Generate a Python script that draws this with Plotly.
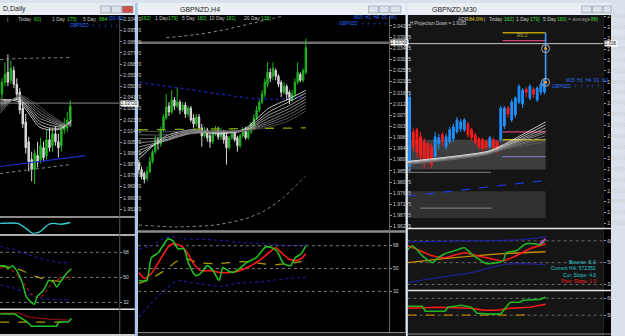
import plotly.graph_objects as go

W, H = 625, 336
FONT = "Liberation Sans, Arial, sans-serif"


def px(x):
    return x / W


def py(y):
    return 1 - y / H


# ================= LEFT WINDOW : GBPNZD, Daily =================
d_open = [2.0444, 2.0540, 2.0620, 2.0556, 2.0636, 2.0524, 2.0460, 2.0332, 2.0220, 2.0060,
          1.9916, 1.9836, 1.9948, 1.9916, 2.0012, 1.9948, 2.0076, 2.0028, 2.0124, 2.0060,
          2.0028, 2.0156, 2.0172, 2.0236]
d_high = [2.0572, 2.0700, 2.0764, 2.0716, 2.0668, 2.0572, 2.0492, 2.0380, 2.0284, 2.0100,
          1.9980, 1.9996, 2.0060, 2.0092, 2.0060, 2.0156, 2.0172, 2.0172, 2.0188, 2.0124,
          2.0204, 2.0252, 2.0300, 2.0396]
d_low = [2.0412, 2.0508, 2.0508, 2.0524, 2.0492, 2.0396, 2.0284, 2.0172, 1.9964, 1.9820,
         1.9740, 1.9716, 1.9852, 1.9884, 1.9900, 1.9916, 1.9980, 1.9980, 2.0028, 1.9932,
         1.9980, 2.0124, 2.0140, 2.0188]
d_close = [2.0540, 2.0604, 2.0540, 2.0652, 2.0524, 2.0444, 2.0316, 2.0204, 2.0012, 1.9900,
           1.9836, 1.9964, 1.9900, 2.0028, 1.9932, 2.0076, 2.0012, 2.0124, 2.0060, 2.0012,
           2.0156, 2.0188, 2.0236, 2.0348]
d_bid = 2.0372
d_rib_x = [-0.6, 5.9, 12.5, 15.8, 20.1, 23.4]
d_rib = [
    [2.0404, 2.0380, 2.0180, 2.0156, 2.0164, 2.0236],
    [2.0388, 2.0396, 2.0204, 2.0172, 2.0172, 2.0228],
    [2.0372, 2.0404, 2.0228, 2.0196, 2.0180, 2.0220],
    [2.0356, 2.0412, 2.0252, 2.0220, 2.0188, 2.0212],
    [2.0340, 2.0420, 2.0276, 2.0236, 2.0196, 2.0204],
    [2.0324, 2.0428, 2.0300, 2.0252, 2.0204, 2.0196],
    [2.0308, 2.0428, 2.0324, 2.0268, 2.0212, 2.0188],
    [2.0292, 2.0436, 2.0348, 2.0284, 2.0220, 2.0180],
]
d_env_up_x = [-0.6, 5.9, 23.4]
d_env_up = [2.0724, 2.0732, 2.0740]
d_env_lo_x = [-0.6, 23.0]
d_env_lo = [1.9804, 1.9876]
d_ma_blue_x = [-0.6, 28.0]
d_ma_blue = [1.9860, 1.9948]
d_osc_x = [-0.6, 5.3, 8.2, 10.2, 12.5, 15.8, 17.4, 20.1, 23.0]
d_osc = [0.33, 0.33, -0.33, -0.89, -0.78, 0.22, 0.33, 0.22, 0.44]
d_rsi_x = [-0.6, 1, 2, 3.6, 5.3, 6.9, 8.2, 9.9, 10.9, 11.8, 14.1, 15.8, 17.4, 18.4, 20.1, 21.7, 23.4]
d_rsi = [58.3, 58.3, 56.2, 58.3, 53.5, 45.8, 36.1, 32, 30.6, 36.1, 41, 47.9, 46.5, 43.1, 47.9, 52.8, 56.2]
d_rsi_ma_x = [-0.6, 2.6, 5.9, 8.2, 10.2, 12.5, 14.1, 15.8, 18.1, 20.1, 23]
d_rsi_ma = [56.9, 56.2, 50, 43.1, 37.5, 35.5, 37.5, 43.1, 47.9, 49.3, 50]
d_rsi_sig_x = [-0.6, 3.6, 6.9, 10.2, 13.5, 16.8, 20.1, 23]
d_rsi_sig = [58.3, 56.9, 54.8, 51.4, 49.3, 47.9, 47.2, 48.6]
d_band_up_x = [-0.6, 3.6, 8.2, 12.5, 16.8, 20.1, 23]
d_band_up = [72.2, 70.1, 66.6, 63.9, 61.8, 60.4, 61.1]
d_band_lo_x = [-0.6, 3.6, 8.2, 12.5, 16.8, 23]
d_band_lo = [44.5, 42.4, 38.9, 35.5, 34.1, 34.1]
d_bot_green_x = [-0.6, 4.3, 8.6, 9.9, 18.4, 19.1, 22.4, 23.4]
d_bot_green = [0.83, 0.83, 0.48, 0.30, 0.30, 0.48, 0.48, 0.65]
d_bot_red_x = [-0.6, 5.9, 9.2, 15.8, 23]
d_bot_red = [0.87, 0.87, 0.70, 0.61, 0.57]
d_bot_sig_x = [-0.6, 23]
d_bot_sig = [0.48, 0.48]

# ================= MIDDLE WINDOW : GBPNZD, H4 =================
m_open = [1.9882, 1.9858, 1.9842, 1.9822, 1.9850, 1.9890, 1.9930, 1.9978, 1.9962, 2.0018,
          2.0066, 2.0114, 2.0090, 2.0138, 2.0114, 2.0130, 2.0098, 2.0118, 2.0082, 2.0106,
          2.0066, 2.0042, 2.0070, 2.0026, 1.9994, 2.0018, 1.9994, 1.9970, 2.0002, 2.0018,
          1.9990, 2.0010, 1.9994, 1.9946, 1.9986, 2.0010, 1.9986, 1.9954, 1.9994, 2.0018,
          1.9986, 2.0010, 2.0034, 2.0066, 2.0098, 2.0130, 2.0162, 2.0202, 2.0250, 2.0234,
          2.0258, 2.0234, 2.0210, 2.0170, 2.0194, 2.0170, 2.0138, 2.0162, 2.0210, 2.0242,
          2.0218, 2.0250]
m_high = [1.9898, 1.9870, 1.9850, 1.9870, 1.9910, 1.9938, 1.9994, 1.9990, 2.0030, 2.0082,
          2.0162, 2.0130, 2.0178, 2.0150, 2.0190, 2.0138, 2.0130, 2.0130, 2.0114, 2.0114,
          2.0082, 2.0082, 2.0082, 2.0042, 2.0030, 2.0026, 2.0010, 2.0018, 2.0034, 2.0030,
          2.0026, 2.0018, 2.0010, 1.9994, 2.0026, 2.0018, 1.9994, 2.0002, 2.0030, 2.0030,
          2.0018, 2.0050, 2.0082, 2.0114, 2.0138, 2.0178, 2.0226, 2.0290, 2.0266, 2.0290,
          2.0266, 2.0242, 2.0218, 2.0210, 2.0202, 2.0178, 2.0178, 2.0226, 2.0290, 2.0250,
          2.0266, 2.0386]
m_low = [1.9842, 1.9818, 1.9802, 1.9810, 1.9842, 1.9882, 1.9922, 1.9938, 1.9950, 2.0010,
         2.0058, 2.0074, 2.0082, 2.0098, 2.0106, 2.0082, 2.0090, 2.0066, 2.0070, 2.0050,
         2.0026, 2.0030, 2.0010, 1.9950, 1.9986, 1.9970, 1.9946, 1.9962, 1.9994, 1.9978,
         1.9978, 1.9962, 1.9878, 1.9938, 1.9978, 1.9970, 1.9930, 1.9946, 1.9986, 1.9978,
         1.9978, 2.0002, 2.0026, 2.0058, 2.0090, 2.0122, 2.0150, 2.0190, 2.0210, 2.0218,
         2.0218, 2.0190, 2.0150, 2.0162, 2.0138, 2.0122, 2.0130, 2.0150, 2.0202, 2.0210,
         2.0210, 2.0242]
m_close = [1.9858, 1.9830, 1.9818, 1.9850, 1.9890, 1.9930, 1.9978, 1.9962, 2.0018, 2.0070,
           2.0110, 2.0090, 2.0138, 2.0114, 2.0130, 2.0098, 2.0118, 2.0082, 2.0106, 2.0058,
           2.0042, 2.0070, 2.0026, 1.9994, 2.0018, 1.9986, 1.9970, 2.0002, 2.0018, 1.9990,
           2.0010, 1.9978, 1.9946, 1.9986, 2.0010, 1.9978, 1.9954, 1.9994, 2.0018, 1.9986,
           2.0010, 2.0042, 2.0066, 2.0098, 2.0130, 2.0162, 2.0210, 2.0250, 2.0226, 2.0266,
           2.0234, 2.0202, 2.0170, 2.0194, 2.0162, 2.0138, 2.0162, 2.0210, 2.0250, 2.0218,
           2.0258, 2.0350]
m_bid = 2.0370
m_rib_x = [0, 10, 19, 29.6, 38.6, 47.5, 54.6, 61]
m_rib = [
    [1.9902, 1.9994, 2.0018, 2.0002, 2.0022, 2.0106, 2.0142, 2.0178],
    [1.9918, 1.9986, 2.0014, 2.0002, 2.0018, 2.0090, 2.0130, 2.0166],
    [1.9934, 1.9978, 2.0010, 2.0006, 2.0014, 2.0078, 2.0114, 2.0154],
    [1.9950, 1.9974, 2.0006, 2.0006, 2.0014, 2.0066, 2.0102, 2.0142],
    [1.9966, 1.9978, 2.0002, 2.0010, 2.0014, 2.0054, 2.0090, 2.0130],
    [1.9982, 1.9986, 2.0006, 2.0010, 2.0014, 2.0046, 2.0078, 2.0118],
    [1.9998, 1.9998, 2.0010, 2.0014, 2.0014, 2.0038, 2.0066, 2.0106],
    [2.0014, 2.0010, 2.0014, 2.0014, 2.0014, 2.0030, 2.0054, 2.0094],
]
m_ma_blue_x = [0, 10, 20, 30, 40, 50, 61]
m_ma_blue = [2.0210, 2.0194, 2.0178, 2.0162, 2.0146, 2.0142, 2.0150]
m_ma_green_x = [0, 61]
m_ma_green = [2.0018, 2.0026]
m_env_up_x = [10, 20.7, 31.4, 42.1, 52.9]
m_env_up = [2.0390, 2.0402, 2.0422, 2.0450, 2.0478]
m_env_lo_x = [0, 13.6, 27.9, 38.6, 45.7, 52.9, 60.7]
m_env_lo = [1.9634, 1.9626, 1.9634, 1.9658, 1.9690, 1.9746, 1.9830]
m_rsi_x = [0, 2.9, 4.6, 7.1, 10.7, 12.5, 14.3, 16.4, 18.2, 20.7, 22.5, 25, 27.1, 29.3,
           30.7, 32.5, 34.3, 36.8, 39.3, 42.9, 46.4, 48.6, 50.4, 52.9, 55.4, 57.1, 59.3, 61]
m_rsi = [40.6, 40.6, 58.6, 62.5, 73.4, 71.9, 65.6, 65.6, 53.9, 44.5, 46.1, 52.3, 48.4, 40.6,
         50.8, 48.4, 46.9, 50, 54.7, 58.6, 67.2, 66.4, 64.1, 53.9, 52.3, 58.6, 61.7, 68]
m_rsi_ma_x = [0, 2.1, 4.6, 8.2, 11.1, 12.9, 15.4, 17.9, 20, 22.5, 26.1, 29.6, 33.2, 36.8,
              40.4, 43.9, 47.5, 50, 52.1, 54.6, 57.1, 59.3, 61]
m_rsi_ma = [46.9, 42.2, 46.1, 58.6, 68, 69.5, 68, 61.7, 53.9, 48.4, 48.4, 46.9, 46.9, 48.4,
            51.6, 56.3, 62.5, 66.4, 62.5, 57.8, 56.3, 57.8, 61.7]
m_rsi_sig_x = [0, 4.6, 9.3, 14.3, 17.1, 21.4, 28.6, 37.9, 45, 50, 57.1, 60.7]
m_rsi_sig = [38.3, 42.2, 48.4, 56.3, 57.8, 54.7, 53.9, 55.5, 53.9, 53.1, 54.7, 56.3]
m_band_up_x = [0, 4.6, 9.3, 11.8, 16.4, 27.1, 39.3, 47.5, 54.6, 61]
m_band_up = [65.6, 68, 74.2, 75, 73.4, 72.7, 70.3, 69.5, 68, 68.8]
m_band_lo_x = [0, 4.6, 9.3, 14.3, 18.9, 29.6, 35.7, 45, 54.6, 61]
m_band_lo = [11.7, 22.7, 32.8, 40.6, 39.1, 35.9, 38.3, 39.8, 42.2, 43]
rsi_levels = [68, 50, 32]

# ================= RIGHT WINDOW : GBPNZD, M30 =================
r_open = [2.0120, 2.0190, 2.0194, 2.0180, 2.0170, 2.0166, 2.0160, 2.0140, 2.0166, 2.0184,
          2.0160, 2.0170, 2.0176, 2.0190, 2.0196, 2.0194, 2.0206, 2.0194, 2.0184, 2.0176,
          2.0174, 2.0170, 2.0160, 2.0174, 2.0170, 2.0174, 2.0202, 2.0238, 2.0214, 2.0224,
          2.0250, 2.0246, 2.0276, 2.0258, 2.0276, 2.0254, 2.0270, 2.0270]
r_high = [2.0270, 2.0198, 2.0198, 2.0190, 2.0178, 2.0170, 2.0166, 2.0190, 2.0186, 2.0190,
          2.0186, 2.0200, 2.0206, 2.0220, 2.0216, 2.0218, 2.0210, 2.0198, 2.0188, 2.0180,
          2.0178, 2.0174, 2.0182, 2.0178, 2.0174, 2.0242, 2.0242, 2.0242, 2.0256, 2.0262,
          2.0286, 2.0278, 2.0280, 2.0286, 2.0280, 2.0282, 2.0290, 2.0298]
r_low = [2.0110, 2.0150, 2.0138, 2.0130, 2.0116, 2.0126, 2.0116, 2.0134, 2.0154, 2.0162,
         2.0154, 2.0166, 2.0170, 2.0186, 2.0190, 2.0190, 2.0178, 2.0172, 2.0164, 2.0154,
         2.0150, 2.0154, 2.0156, 2.0152, 2.0146, 2.0170, 2.0196, 2.0218, 2.0210, 2.0218,
         2.0246, 2.0238, 2.0260, 2.0254, 2.0258, 2.0250, 2.0264, 2.0266]
r_close = [2.0260, 2.0160, 2.0150, 2.0140, 2.0130, 2.0134, 2.0124, 2.0180, 2.0178, 2.0170,
           2.0180, 2.0194, 2.0200, 2.0214, 2.0210, 2.0214, 2.0184, 2.0178, 2.0168, 2.0160,
           2.0156, 2.0158, 2.0178, 2.0158, 2.0152, 2.0238, 2.0238, 2.0226, 2.0250, 2.0258,
           2.0282, 2.0274, 2.0270, 2.0282, 2.0266, 2.0278, 2.0286, 2.0294]
r_bid = 2.0368
r_lvl_x = [25.5, 37.3]
r_proj_yellow = 2.0390
r_proj_pink = 2.0374
r_pivot_pink = 2.0190
r_pivot_yellow = 2.0174
r_pivot_lav = 2.0140
r_box_x = [-0.54, 37.3]
r_box1 = [2.0114, 2.0174]
r_box2 = [2.0016, 2.0070]
r_gray_x = [-0.54, 22.3]
r_gray = 2.0108
r_box2_line_x = [2.9, 22.5]
r_box2_line = 2.0036
r_ma_blue_x = [-0.54, 37.3]
r_ma_blue = [2.0060, 2.0092]
r_spike_x = [37.3, 37.3]
r_spike = [2.0294, 2.0390]
r_circle_x = [37.3, 37.3]
r_circle = [2.0358, 2.0290]
r_rib_x = [-0.5, 21.2, 25.7, 37.3]
r_rib = [
    [2.0130, 2.0150, 2.0164, 2.0210],
    [2.0130, 2.0150, 2.0162, 2.0204],
    [2.0128, 2.0148, 2.0160, 2.0198],
    [2.0128, 2.0148, 2.0160, 2.0192],
    [2.0126, 2.0146, 2.0158, 2.0188],
    [2.0126, 2.0146, 2.0156, 2.0182],
    [2.0124, 2.0144, 2.0156, 2.0176],
    [2.0124, 2.0144, 2.0154, 2.0170],
]
r_i1_up_x = [-0.5, 16.4, 29.8, 37.3]
r_i1_up = [67.2, 68, 68.8, 71.3]
r_i1_lo_x = [-0.5, 7.8, 16.9, 25.7, 30.3, 37.3]
r_i1_lo = [33.6, 37.7, 41.8, 48.4, 49.2, 48.4]
r_i1_green_x = [-0.5, 0.8, 3.5, 6.2, 7.8, 9.7, 12.3, 15, 16.9, 19.6, 21.2, 23.9, 25.7, 26.5,
                29.2, 31.9, 34.6, 35.7, 37]
r_i1_green = [60.6, 63.9, 55.7, 50, 54.1, 57.4, 59.8, 62.3, 57.4, 51.6, 49.2, 50, 51.6, 58.2,
              59.8, 65.5, 65.5, 64.7, 68]
r_i1_mag_x = [35.7, 37.3]
r_i1_mag = [65.5, 69.6]
r_i1_red_x = [-0.5, 1.6, 6.2, 9.7, 15, 18.5, 22.3, 25.7, 29.2, 33, 37.3]
r_i1_red = [63.9, 61.5, 55.7, 54.1, 58.2, 55.7, 53.3, 51.6, 55.7, 61.5, 65.5]
r_i1_orange_x = [-0.5, 12.3, 25.7, 37.3]
r_i1_orange = [50, 54.1, 57.4, 59]
r_i2_green_x = [-0.5, 3.5, 4.3, 9.7, 10.5, 14.2, 16.9, 18.5, 22.3, 24.9, 27.6, 30.3, 31.1, 35.7, 37.3]
r_i2_green = [59.5, 59.5, 54.2, 54.2, 58.5, 60.6, 58.5, 52.1, 51.1, 51.1, 63.8, 63.8, 65.9, 66.9, 69.1]
r_i2_red_x = [-0.5, 7.8, 16.9, 20.4, 23.9, 27.6, 33, 37.3]
r_i2_red = [57.4, 58.5, 57.4, 55.3, 55.3, 57.4, 58.5, 61.7]
r_i2_sig_x = [-0.5, 16.9, 30.3, 33.8]
r_i2_sig = [50, 50, 50, 51.1]
r_i2_levels = [68, 50]

# ================= FIGURE =================
fig = go.Figure()

# panel: axis number -> (x0, x1, ytop, ybottom, xrange, yrange)
panels = {
    1: (0, 122, 13, 215, [-0.66, 39.5], [1.9460, 2.1076]),
    2: (0, 122, 217, 233, [-0.66, 39.5], [-1, 1]),
    3: (0, 122, 235, 308, [-0.66, 39.5], [27.8, 79.8]),
    4: (0, 122, 310, 333, [-0.66, 39.5], [0, 1]),
    5: (141, 398, 13, 229, [-0.36, 91.4], [1.9614, 2.0478]),
    6: (141, 398, 232, 332, [-0.36, 91.4], [0, 78.1]),
    7: (417, 617, 13, 226, [-0.54, 53.1], [1.9998, 2.0424]),
    8: (417, 617, 229, 289, [-0.54, 53.1], [27.9, 77]),
    9: (417, 617, 291, 333, [-0.54, 53.1], [30.9, 75.4]),
}
tickcfg = {
    1: dict(tickformat=".5f", dtick=0.009, tick0=2.0417),
    2: dict(showticklabels=False, ticks=""),
    3: dict(tickvals=rsi_levels),
    4: dict(showticklabels=False, ticks=""),
    5: dict(tickformat=".5f", dtick=0.0045, tick0=2.03925),
    6: dict(tickvals=rsi_levels),
    7: dict(tickformat=".5f", dtick=0.0022, tick0=2.0379),
    8: dict(tickvals=rsi_levels),
    9: dict(tickvals=r_i2_levels),
}
layout_axes = {}
for n, (x0, x1, yt, yb, xr, yr) in panels.items():
    xa = "xaxis" if n == 1 else f"xaxis{n}"
    ya = "yaxis" if n == 1 else f"yaxis{n}"
    layout_axes[xa] = dict(domain=[px(x0), px(x1)], range=xr, visible=False,
                           anchor="y" if n == 1 else f"y{n}",
                           rangeslider=dict(visible=False), fixedrange=True)
    yd = dict(domain=[py(yb), py(yt)], range=yr, anchor="x" if n == 1 else f"x{n}",
              side="right", showgrid=False, zeroline=False, showline=False,
              ticks="outside", ticklen=2, tickcolor="#9a9a9a",
              tickfont=dict(size=5, color="#d0d0d0", family=FONT), fixedrange=True)
    yd.update(tickcfg[n])
    layout_axes[ya] = yd


def ax(n):
    return ("x", "y") if n == 1 else (f"x{n}", f"y{n}")


def line(n, x, y, color, width=1, dash="solid", shape="spline"):
    xa, ya = ax(n)
    fig.add_trace(go.Scatter(x=x, y=y, xaxis=xa, yaxis=ya, mode="lines",
                             line=dict(color=color, width=width, dash=dash, shape=shape, smoothing=0.6),
                             hoverinfo="skip", showlegend=False))


def candles(n, o, h, l, c, up, dn):
    xa, ya = ax(n)
    fig.add_trace(go.Candlestick(x=list(range(len(c))), open=o, high=h, low=l, close=c,
                                 xaxis=xa, yaxis=ya, whiskerwidth=0,
                                 increasing=dict(line=dict(color=up, width=1), fillcolor=up),
                                 decreasing=dict(line=dict(color=dn, width=1), fillcolor=dn),
                                 hoverinfo="skip", showlegend=False))


ribbon_cols = ["#f2f2f2", "#dcdcdc", "#c6c6c6", "#b0b0b0", "#9a9a9a", "#868686", "#747474", "#626262"]

# ---- left price
for i, rib in enumerate(d_rib):
    line(1, d_rib_x, rib, ribbon_cols[i], 0.8)
line(1, d_env_up_x, d_env_up, "#8a8a8a", 1, "dot")
line(1, d_env_lo_x, d_env_lo, "#8a8a8a", 1, "dot")
line(1, d_ma_blue_x, d_ma_blue, "#1f2fd0", 1.2)
candles(1, d_open, d_high, d_low, d_close, "#22b422", "#d8d8d8")
# ---- left oscillator
line(2, d_osc_x, d_osc, "#39d0d6", 1.3)
# ---- left RSI
line(3, d_band_up_x, d_band_up, "#1a1a9a", 1.2, "dot")
line(3, d_band_lo_x, d_band_lo, "#1a1a9a", 1.2, "dot")
line(3, d_rsi_sig_x, d_rsi_sig, "#b0a000", 1.2, "dash")
line(3, d_rsi_ma_x, d_rsi_ma, "#b01010", 1.2, "dot")
line(3, d_rsi_x, d_rsi, "#22c022", 1.5)
# ---- left bottom
line(4, d_bot_sig_x, d_bot_sig, "#b0a000", 1.2, "dash", "linear")
line(4, d_bot_red_x, d_bot_red, "#8a1010", 1.3, "solid", "linear")
line(4, d_bot_green_x, d_bot_green, "#22c022", 1.5, "solid", "linear")

# ---- middle price
line(5, m_env_up_x, m_env_up, "#8a8a8a", 1, "dot")
line(5, m_env_lo_x, m_env_lo, "#8a8a8a", 1, "dot")
line(5, m_ma_blue_x, m_ma_blue, "#1a20a8", 1.4, "dot")
line(5, m_ma_green_x, m_ma_green, "#7fa800", 1.3, "dash")
for i, rib in enumerate(m_rib):
    line(5, m_rib_x, rib, ribbon_cols[i], 0.8)
candles(5, m_open, m_high, m_low, m_close, "#22b422", "#d8d8d8")
# ---- middle RSI
line(6, m_band_up_x, m_band_up, "#1a1a9a", 1.2, "dot")
line(6, m_band_lo_x, m_band_lo, "#1a1a9a", 1.2, "dot")
line(6, m_rsi_sig_x, m_rsi_sig, "#a8a000", 1.3, "dash")
line(6, m_rsi_ma_x, m_rsi_ma, "#ff1a1a", 1.6)
line(6, m_rsi_x, m_rsi, "#22c022", 1.6)

# ---- right price
for i, rib in enumerate(r_rib):
    line(7, r_rib_x, rib, ribbon_cols[i], 0.8)
line(7, r_ma_blue_x, r_ma_blue, "#2238d8", 1.2, "dash", "linear")
candles(7, r_open, r_high, r_low, r_close, "#1e90ff", "#ff1a1a")
line(7, r_spike_x, r_spike, "#3d9bff", 1.6, "solid", "linear")
fig.add_trace(go.Scatter(x=r_circle_x, y=r_circle, xaxis="x7", yaxis="y7", mode="markers",
                         marker=dict(symbol="circle-open", size=8, color="#b0b0b0", line=dict(width=1)),
                         hoverinfo="skip", showlegend=False))
fig.add_trace(go.Scatter(x=r_circle_x, y=r_circle, xaxis="x7", yaxis="y7", mode="markers",
                         marker=dict(symbol="circle", size=3, color="#e0a030"),
                         hoverinfo="skip", showlegend=False))
# ---- right indicator 1
line(8, r_i1_up_x, r_i1_up, "#20209a", 1.2)
line(8, r_i1_lo_x, r_i1_lo, "#20209a", 1.2)
line(8, r_i1_orange_x, r_i1_orange, "#c88a00", 1.3)
line(8, r_i1_red_x, r_i1_red, "#ff1a1a", 1.6)
line(8, r_i1_green_x, r_i1_green, "#22b422", 1.6)
line(8, r_i1_mag_x, r_i1_mag, "#e040e0", 1.6, "solid", "linear")
# ---- right indicator 2
line(9, r_i2_sig_x, r_i2_sig, "#b07800", 1.3, "dash", "linear")
line(9, r_i2_red_x, r_i2_red, "#ff1a1a", 1.6, "solid", "linear")
line(9, r_i2_green_x, r_i2_green, "#22b422", 1.6, "solid", "linear")

# ================= SHAPES =================
shapes = []


def prect(x0, y0, x1, y1, fill, lc=None, lw=0, layer="below"):
    shapes.append(dict(type="rect", xref="paper", yref="paper", x0=px(x0), x1=px(x1),
                       y0=py(y1), y1=py(y0), fillcolor=fill, layer=layer,
                       line=dict(color=lc or fill, width=lw)))


def pline(x0, y0, x1, y1, color, width=1, layer="above"):
    shapes.append(dict(type="line", xref="paper", yref="paper", x0=px(x0), x1=px(x1),
                       y0=py(y0), y1=py(y1), layer=layer, line=dict(color=color, width=width)))


# window frames / backgrounds
prect(0, 12, 138, 336, "#000000")
prect(141, 12, 415, 336, "#000000")
prect(417, 12, 617, 336, "#151515")
prect(617, 12, 625, 336, "#000000")
prect(138, 0, 141, 336, "#a9c9ea")
prect(415, 0, 417, 336, "#dbe3ec")
prect(0, 0, 138, 12, "#e8edf3")
prect(141, 0, 415, 12, "#eaeff5")
prect(417, 0, 625, 12, "#eaeff5")
prect(0, 334, 138, 336, "#d0d0d0")
prect(141, 333, 415, 336, "#1a1a1a")
# caption buttons
for (bx0, bx1, col) in [(103, 113, "#dde3ea"), (114, 124, "#dde3ea"), (125, 136, "#c9504c"),
                        (377, 387, "#dde3ea"), (388, 398, "#dde3ea"), (399, 410, "#dde3ea"),
                        (595, 605, "#dde3ea"), (606, 616, "#dde3ea"), (617, 625, "#dde3ea")]:
    prect(bx0, 3, bx1, 10, col, "#8796a8", 0.6, "above")

# separators & chart borders
pline(0, 216, 138, 216, "#8c8c8c", 2)
pline(0, 234, 138, 234, "#e6e6e6", 1.5)
pline(0, 309, 138, 309, "#e6e6e6", 1.5)
pline(122.5, 13, 122.5, 334, "#5a5a5a", 1)
pline(141, 230.5, 415, 230.5, "#8c8c8c", 2.5)
pline(398.5, 13, 398.5, 333, "#6a6a6a", 1)
pline(141, 332.5, 415, 332.5, "#8c8c8c", 1)
pline(417, 227.5, 625, 227.5, "#e6e6e6", 1.5)
pline(417, 290, 625, 290, "#e6e6e6", 1.5)
pline(417, 334, 625, 334, "#8c8c8c", 1)


def dline(n, x0, x1, y0, y1, color, width=1, dash="solid", xdom=False):
    xa, ya = ax(n)
    shapes.append(dict(type="line", xref=(xa + " domain") if xdom else xa, yref=ya,
                       x0=x0, x1=x1, y0=y0, y1=y1, layer="below",
                       line=dict(color=color, width=width, dash=dash)))


def drect(n, x0, x1, y0, y1, fill):
    xa, ya = ax(n)
    shapes.append(dict(type="rect", xref=xa, yref=ya, x0=x0, x1=x1, y0=y0, y1=y1,
                       layer="below", fillcolor=fill, line=dict(width=0)))


# bid lines
dline(1, 0, 1, d_bid, d_bid, "#8a8a8a", 1, xdom=True)
dline(5, 0, 1, m_bid, m_bid, "#6e6e6e", 2.5, xdom=True)
dline(7, 0, 1, r_bid, r_bid, "#c8c8c8", 1, xdom=True)
# RSI levels
for lv in rsi_levels:
    dline(3, 0, 1, lv, lv, "#7a7a7a", 1, "dot", True)
    dline(6, 0, 1, lv, lv, "#7a7a7a", 1, "dot", True)
    dline(8, 0, 1, lv, lv, "#6a6a6a", 1, "dot", True)
for lv in r_i2_levels:
    dline(9, 0, 1, lv, lv, "#6a6a6a", 1, "dot", True)
# right chart zones and levels
drect(7, r_box_x[0], r_box_x[1], r_box1[0], r_box1[1], "rgba(125,125,125,0.38)")
drect(7, r_box_x[0], r_box_x[1], r_box2[0], r_box2[1], "rgba(110,110,110,0.32)")
dline(7, r_box2_line_x[0], r_box2_line_x[1], r_box2_line, r_box2_line, "#8a8a8a", 1)
dline(7, r_gray_x[0], r_gray_x[1], r_gray, r_gray, "#6e6e6e", 1.2)
dline(7, r_lvl_x[0], r_lvl_x[1], r_proj_yellow, r_proj_yellow, "#b8a000", 1.3)
dline(7, r_lvl_x[0], r_lvl_x[1], r_proj_pink, r_proj_pink, "#d0407a", 1.3)
dline(7, r_lvl_x[0], r_lvl_x[1], r_pivot_pink, r_pivot_pink, "#d0407a", 1.3)
dline(7, r_lvl_x[0], r_lvl_x[1], r_pivot_yellow, r_pivot_yellow, "#c8b000", 1.3)
dline(7, r_lvl_x[0], r_lvl_x[1], r_pivot_lav, r_pivot_lav, "#7474b8", 1.2)

# ================= TEXT =================
ann = []


def T(x, y, s, color="#c8c8c8", size=5.5, anchor="left", bg=None):
    d = dict(xref="paper", yref="paper", x=px(x), y=py(y), text=s, showarrow=False,
             xanchor=anchor, yanchor="middle", font=dict(family=FONT, size=size, color=color))
    if bg:
        d.update(bgcolor=bg, borderpad=0)
    ann.append(d)


GR = "#3bd63b"
BL = "#2e6cff"
GY = "#c4c4c4"
# titles
T(1, 6.5, "D,Daily", "#1e1e1e", 7)
T(182, 6.5, "GBPNZD,H4", "#1e1e1e", 7)
T(440, 6.5, "GBPNZD,M30", "#1e1e1e", 7)
# left header
T(5, 16, "|", GY, 5)
T(16, 16, "Today", GY, 5)
T(33, 16, "82]", GR, 5)
T(51, 16, "1 Day", GY, 5)
T(66, 16, "175]", GR, 5)
T(83, 16, "5 Day", GY, 5)
T(99, 16, "884", GR, 5)
T(109, 16, "|D1 W1", BL, 4.5)
T(70, 23, "GBPNZD", BL, 4.5)
for ax_x in [92, 98, 104, 110, 116]:
    T(ax_x, 23, "↑", BL, 6)
T(123, 101, "2.03720", "#000000", 4.5, bg="#ffffff")
# middle header
T(142, 15.5, "162]", GR, 5)
T(156, 15.5, "1 Day", GY, 5)
T(170, 15.5, "179]", GR, 5)
T(184, 15.5, "5 Day", GY, 5)
T(199, 15.5, "180]", GR, 5)
T(212, 15.5, "10 Day", GY, 5)
T(229, 15.5, "181]", GR, 5)
T(248, 15.5, "20 Day", GY, 5)
T(265, 15.5, "136]", GR, 5)
T(360, 15, "M15  H1  H4  D1  W1", BL, 4.5)
T(345, 21, "GBPNZD", BL, 4.5)
for ax_x in [367, 373, 379, 385, 391]:
    T(ax_x, 21, "↑", BL, 6)
T(399, 40, "2.03700", "#000000", 4.5, bg="#ffffff")
# right header
T(417, 20.5, "H Projection Down = 1.9183", "#d0d0d0", 4.5)
T(466, 16, "ADR", GY, 5)
T(478, 16, "84.0%", "#e6d21e", 5)
T(493, 16, "|", GY, 5)
T(498, 16, "Today", GY, 5)
T(513, 16, "162]", GR, 5)
T(526, 16, "1 Day", GY, 5)
T(540, 16, "179]", GR, 5)
T(553, 16, "5 Day", GY, 5)
T(568, 16, "180]", GR, 5)
T(579, 16, "= average", "#9a9a9a", 5)
T(602, 16, "88]", GR, 5)
T(527, 32.5, "R0.2", "#b9a84c", 5)
T(577, 78, "M15  H1  H4  D1  W1", BL, 4.5)
T(563, 84, "GBPNZD", BL, 4.5)
for ax_x in [585, 591, 597, 603, 609]:
    T(ax_x, 84, "↑", BL, 6)
T(618, 41, "2.036", "#000000", 4.5, bg="#ffffff")
T(612, 261, "Bounce: 5.0", "#2fc6d2", 5, "right")
T(612, 267.5, "Current HA: 572350", "#2fc6d2", 5, "right")
T(612, 274, "Cur. Slope: 4.0", "#2fc6d2", 5, "right")
T(612, 280.5, "Prev. Slope: 1.0", "#ff2020", 5, "right")

fig.update_layout(
    width=W, height=H, autosize=False,
    margin=dict(l=0, r=0, t=0, b=0, pad=0),
    paper_bgcolor="#d9e2ec", plot_bgcolor="rgba(0,0,0,0)",
    showlegend=False, hovermode=False,
    shapes=shapes, annotations=ann,
    **layout_axes,
)

fig.write_html("out.html")
